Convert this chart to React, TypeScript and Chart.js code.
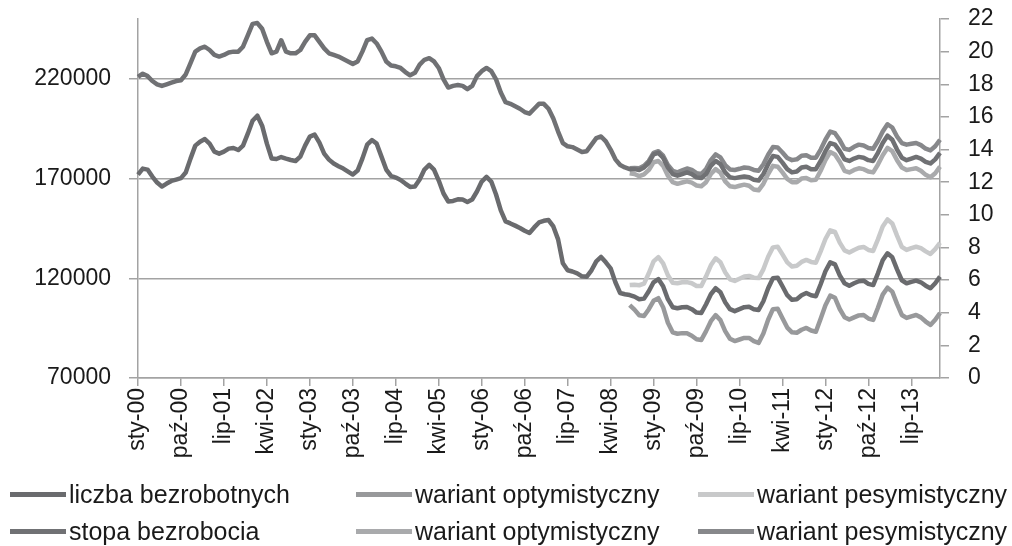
import React, { useEffect, useRef } from 'react';
import { Chart, registerables } from 'chart.js';

Chart.register(...registerables);

// ---- categories ----
const MONTHS = ['sty', 'lut', 'mar', 'kwi', 'maj', 'cze', 'lip', 'sie', 'wrz', 'paź', 'lis', 'gru'];
const YEARS = ['00', '01', '02', '03', '04', '05', '06', '07', '08', '09', '10', '11', '12', '13', '14'];
const N_POINTS = 169; // sty-00 ... sty-14
const categories: string[] = [];
for (let i = 0; i < N_POINTS; i++) categories.push(MONTHS[i % 12] + '-' + YEARS[Math.floor(i / 12)]);

const X_LABEL_EVERY = 9;
const FORECAST_START = 103; // sie-08

// ---- series: liczba bezrobotnych (left axis) ----
const liczbaBezrobotnych = [
  172000, 175000, 174500, 171000, 168000, 166000, 167500, 168800, 169500, 170200, 173000, 180000,
  186500, 188500, 189800, 187500, 183500, 182500, 183500, 185000, 185300, 184300, 186500, 192500,
  199000, 201500, 196500, 187500, 180000, 179800, 180800, 180000, 179300, 178800, 181000, 186500,
  191000, 192000, 188000, 182500, 179500, 177500, 176200, 175000, 173500, 172000, 174000, 180000,
  187000, 189300, 187500, 181000, 174500, 171300, 170500, 169300, 167500, 165800, 166000, 169500,
  174500, 176800, 174500, 169000, 162500, 158500, 158800, 159600, 159500, 158300, 159500, 163500,
  168500, 170800, 168500, 162000, 154000, 148500, 147500, 146400, 145200, 143800, 142700, 145500,
  148000, 148800, 149200, 146000, 139500, 127500, 124000, 123400, 122500, 121000, 120800, 124000,
  128500, 130700, 128000, 125000, 118000, 112600, 112000, 111600, 110800, 109500, 109800, 113500,
  118000, 119600, 116000, 109500, 105500, 105000, 105500, 105600, 104500, 102800, 102600, 107000,
  112000, 115000, 113000, 108000, 104500, 103500, 104500, 105500, 105700, 104500, 104100, 108500,
  115000, 120000, 120300, 116000, 111500, 109200, 109500, 111500, 112600, 111500, 111000, 117000,
  123500, 128000, 127000, 121500, 117500, 116300, 117500, 118500, 118800, 117200, 116600, 122500,
  129000, 132500, 130500, 124500, 119000, 117500, 118200, 118800, 118000, 116300, 115000, 117500, 120800,
];
// forecasts from sie-08
const liczbaOptymistyczny = [
  106600, 104300, 101500, 101100, 104500, 108700, 110000, 105500, 97700, 92900,
  92200, 92500, 92400, 91200, 89400, 89100, 93500, 98500, 101500, 99000,
  93500, 89700, 88500, 89300, 90100, 90100, 88500, 87600, 92300, 99200,
  104500, 104700, 100000, 95300, 92900, 92700, 94200, 95100, 93800, 93200,
  99700, 106500, 111300, 110200, 104600, 100500, 99300, 100400, 101400, 101600,
  99800, 99100, 105200, 111800, 115300, 113300, 107200, 101600, 100100, 100900,
  101600, 100400, 98300, 96600, 99200, 102600,
];
const liczbaPesymistyczny = [
  116600, 116800, 116500, 117300, 122500, 128500, 130600, 127500, 121500, 117800,
  117500, 118000, 118100, 117500, 116100, 116100, 121000, 126500, 130000, 128000,
  123000, 119500, 118700, 119800, 120900, 121200, 120300, 120100, 124500, 130800,
  135500, 135800, 132000, 128000, 125900, 126300, 128200, 129200, 128200, 127800,
  133500, 139700, 144000, 143200, 137900, 134000, 132900, 134200, 135300, 135700,
  134200, 133700, 139500, 146000, 149500, 147500, 141400, 135800, 134200, 135100,
  135800, 135100, 133500, 132200, 134600, 137800,
];

// ---- series: stopa bezrobocia (right axis, %) ----
const stopaBezrobocia = [
  18.45, 18.65, 18.5, 18.2, 18.0, 17.9, 18.0, 18.1, 18.2, 18.25, 18.6, 19.3,
  20.0, 20.2, 20.3, 20.1, 19.8, 19.7, 19.8, 19.95, 20.0, 20.0, 20.3, 21.0,
  21.7, 21.75, 21.4, 20.6, 19.9, 20.0, 20.7, 20.0, 19.9, 19.9, 20.1, 20.6,
  21.0, 21.0, 20.6, 20.2, 19.9, 19.8, 19.7, 19.55, 19.4, 19.25, 19.4, 20.0,
  20.7, 20.8, 20.5, 20.0, 19.4, 19.15, 19.1, 19.0, 18.75, 18.55, 18.7, 19.2,
  19.5, 19.6, 19.4, 19.0, 18.3, 17.8, 17.9, 17.95, 17.9, 17.7, 17.9, 18.5,
  18.8, 19.0, 18.8, 18.3, 17.5, 16.9, 16.8, 16.65, 16.5, 16.3, 16.2, 16.5,
  16.8, 16.8, 16.5, 15.9, 15.1, 14.4, 14.2, 14.15, 14.0, 13.85, 13.9, 14.3,
  14.7, 14.8, 14.5, 14.0, 13.4, 13.05, 12.9, 12.8, 12.8, 12.75, 12.9, 13.2,
  13.7, 13.8, 13.5, 12.9, 12.5, 12.4, 12.5, 12.6, 12.5, 12.3, 12.25, 12.5,
  13.0, 13.3, 13.1, 12.6, 12.3, 12.25, 12.3, 12.35, 12.3, 12.15, 12.1, 12.5,
  13.1, 13.6, 13.55, 13.2, 12.8, 12.6, 12.65, 12.9, 12.95, 12.8, 12.8, 13.3,
  13.9, 14.4, 14.3, 13.9, 13.4, 13.3, 13.45, 13.55, 13.5, 13.35, 13.3, 13.8,
  14.4, 14.85, 14.6, 14.0, 13.5, 13.35, 13.45, 13.55, 13.45, 13.25, 13.15, 13.4, 13.8,
];
const stopaOptymistyczny = [
  12.55, 12.5, 12.37, 12.48, 12.75, 13.22, 13.3, 13.0, 12.4, 12.0,
  11.9, 11.98, 12.05, 11.97, 11.8, 11.75, 12.0, 12.5, 12.8, 12.58,
  12.05, 11.75, 11.7, 11.78, 11.85, 11.78, 11.55, 11.5, 11.9, 12.5,
  13.0, 12.95, 12.6, 12.2, 12.0, 12.0, 12.22, 12.25, 12.12, 12.15,
  12.7, 13.35, 13.85, 13.7, 13.25, 12.7, 12.6, 12.75, 12.85, 12.8,
  12.65, 12.6, 13.08, 13.65, 14.1, 13.9, 13.35, 12.9, 12.75, 12.8,
  12.85, 12.7, 12.45, 12.3, 12.55, 12.95,
];
const stopaPesymistyczny = [
  12.85, 12.87, 12.85, 13.0, 13.3, 13.8, 13.9, 13.62, 13.05, 12.7,
  12.6, 12.72, 12.84, 12.75, 12.55, 12.5, 12.8, 13.35, 13.7, 13.52,
  13.05, 12.78, 12.75, 12.82, 12.9, 12.87, 12.75, 12.7, 13.1, 13.68,
  14.15, 14.13, 13.82, 13.48, 13.35, 13.4, 13.62, 13.65, 13.5, 13.5,
  14.0, 14.6, 15.1, 15.0, 14.58, 14.05, 13.98, 14.17, 14.3, 14.25,
  14.1, 14.05, 14.52, 15.1, 15.55, 15.35, 14.8, 14.4, 14.3, 14.35,
  14.4, 14.27, 14.05, 13.95, 14.2, 14.6,
];

// ---- axis ticks ----
const leftTicks = [70000, 120000, 170000, 220000];
const LEFT_MIN = 70000;
const LEFT_MAX = 250000;
const RIGHT_MIN = 0;
const RIGHT_MAX = 22;
const RIGHT_STEP = 2;

// ---- styles ----
const COLORS = {
  liczba: '#6a6b6e',
  liczbaOpt: '#98999b',
  liczbaPes: '#c8c9ca',
  stopa: '#707174',
  stopaOpt: '#a9aaac',
  stopaPes: '#87888b',
};
const FONT = '"Liberation Sans", Arial, sans-serif';
const AXIS_GRAY = '#a3a3a3';
const TEXT = '#1a1a1a';

const padForecast = (arr: number[]) => [...new Array(FORECAST_START).fill(null), ...arr];

const legendItems = [
  { label: 'liczba bezrobotnych', color: COLORS.liczba },
  { label: 'wariant optymistyczny', color: COLORS.liczbaOpt },
  { label: 'wariant pesymistyczny', color: COLORS.liczbaPes },
  { label: 'stopa bezrobocia', color: COLORS.stopa },
  { label: 'wariant optymistyczny', color: COLORS.stopaOpt },
  { label: 'wariant pesymistyczny', color: COLORS.stopaPes },
];
const legendCols = [10, 356, 698];
const legendRows = [494, 531];

export default function App() {
  const canvasRef = useRef<HTMLCanvasElement | null>(null);

  useEffect(() => {
    document.body.style.margin = '0';
    const canvas = canvasRef.current;
    if (!canvas) return;
    const line = (label: string, data: (number | null)[], color: string, axis: string) => ({
      label,
      data,
      borderColor: color,
      backgroundColor: color,
      borderWidth: 4.5,
      pointRadius: 0,
      pointHoverRadius: 0,
      tension: 0,
      fill: false,
      borderJoinStyle: 'round' as const,
      borderCapStyle: 'butt' as const,
      spanGaps: false,
      yAxisID: axis,
    });
    const noVPad = (scale: any) => {
      scale.paddingTop = 0;
      scale.paddingBottom = 0;
    };
    const chart = new Chart(canvas, {
      type: 'line',
      data: {
        labels: categories,
        datasets: [
          line('liczba bezrobotnych', liczbaBezrobotnych, COLORS.liczba, 'y'),
          line('wariant optymistyczny', padForecast(liczbaOptymistyczny), COLORS.liczbaOpt, 'y'),
          line('wariant pesymistyczny', padForecast(liczbaPesymistyczny), COLORS.liczbaPes, 'y'),
          line('stopa bezrobocia', stopaBezrobocia, COLORS.stopa, 'y1'),
          line('wariant optymistyczny', padForecast(stopaOptymistyczny), COLORS.stopaOpt, 'y1'),
          line('wariant pesymistyczny', padForecast(stopaPesymistyczny), COLORS.stopaPes, 'y1'),
        ],
      },
      options: {
        responsive: false,
        animation: false,
        events: [],
        layout: { padding: { top: 19, left: 0, right: 0, bottom: 0 } },
        plugins: {
          legend: { display: false },
          tooltip: { enabled: false },
        },
        scales: {
          x: {
            type: 'category',
            offset: false,
            afterBuildTicks: (scale: any) => {
              scale.ticks = scale.ticks.filter((t: any) => t.value % X_LABEL_EVERY === 0);
            },
            afterFit: (scale: any) => {
              scale.height = 546 - 378;
              scale.paddingLeft = 0;
              scale.paddingRight = 0;
            },
            grid: {
              display: true,
              drawOnChartArea: false,
              drawTicks: true,
              tickLength: 8,
              color: AXIS_GRAY,
              lineWidth: 1.5,
            },
            border: { display: true, color: AXIS_GRAY, width: 1.5 },
            ticks: {
              autoSkip: false,
              maxRotation: 90,
              minRotation: 90,
              padding: 2,
              color: TEXT,
              font: { family: FONT, size: 23 },
            },
          },
          y: {
            type: 'linear',
            position: 'left',
            min: LEFT_MIN,
            max: LEFT_MAX,
            afterBuildTicks: (scale: any) => {
              scale.ticks = leftTicks.map((v) => ({ value: v }));
            },
            afterFit: (scale: any) => {
              scale.width = 138;
              noVPad(scale);
            },
            grid: {
              display: true,
              drawOnChartArea: true,
              drawTicks: true,
              tickLength: 9,
              color: AXIS_GRAY,
              lineWidth: 1.5,
            },
            border: { display: true, color: AXIS_GRAY, width: 1.5 },
            ticks: {
              padding: 18,
              color: TEXT,
              font: { family: FONT, size: 23 },
              callback: (v: any) => String(v),
            },
          },
          y1: {
            type: 'linear',
            position: 'right',
            min: RIGHT_MIN,
            max: RIGHT_MAX,
            afterFit: (scale: any) => {
              scale.width = 1012 - 940;
              noVPad(scale);
            },
            grid: {
              display: true,
              drawOnChartArea: false,
              drawTicks: true,
              tickLength: 9,
              color: AXIS_GRAY,
              lineWidth: 1.5,
            },
            border: { display: true, color: AXIS_GRAY, width: 1.5 },
            ticks: {
              stepSize: RIGHT_STEP,
              padding: 19,
              color: TEXT,
              font: { family: FONT, size: 23 },
            },
          },
        },
      },
    } as any);
    return () => chart.destroy();
  }, []);

  return (
    <div style={{ position: 'relative', width: 1012, height: 546, overflow: 'hidden', background: '#fff' }}>
      <canvas ref={canvasRef} width={1012} height={546} style={{ display: 'block', position: 'absolute', left: 0, top: 0 }} />
      {legendItems.map((it, i) => (
        <div
          key={i}
          style={{
            position: 'absolute',
            left: legendCols[i % 3],
            top: legendRows[Math.floor(i / 3)] - 16,
            height: 32,
            display: 'flex',
            alignItems: 'center',
            fontFamily: FONT,
            fontSize: 25,
            color: TEXT,
            whiteSpace: 'nowrap',
          }}
        >
          <span style={{ display: 'inline-block', width: 56, height: 5, background: it.color, marginRight: 3 }} />
          <span>{it.label}</span>
        </div>
      ))}
    </div>
  );
}
